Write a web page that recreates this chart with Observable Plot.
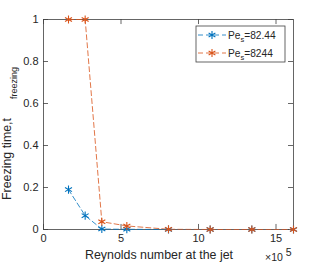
<!DOCTYPE html>
<html>
<head>
<meta charset="utf-8">
<script src="https://cdn.jsdelivr.net/npm/d3@7"></script>
<script src="https://cdn.jsdelivr.net/npm/@observablehq/plot@0.6"></script>
<style>
  html, body { margin: 0; padding: 0; background: #fff; }
</style>
</head>
<body>
<div id="chart"></div>
<script>
// Reynolds number at the jet (×10^5)
const reynolds = [1.613, 2.688, 3.763, 5.376, 8.064, 10.752, 13.44, 16.128];
// Freezing time for Pe_s = 82.44
const tPe82 = [0.19, 0.066, 0.002, 0.001, 0, 0, 0, 0];
// Freezing time for Pe_s = 8244
const tPe8244 = [1, 1, 0.037, 0.017, 0.001, 0, 0, 0];
const seriesNames = ["82.44", "8244"];
const seriesColors = ["#0072BD", "#D95319"];
const xTicks = [0, 5, 10, 15];
const yTicks = [0, 0.2, 0.4, 0.6, 0.8, 1];

const rows = [];
reynolds.forEach((r, i) => rows.push({re: r, t: tPe82[i], s: seriesNames[0]}));
reynolds.forEach((r, i) => rows.push({re: r, t: tPe8244[i], s: seriesNames[1]}));
const xMax = d3.max(reynolds);

const fig = Plot.plot({
  width: 324,
  height: 264,
  marginLeft: 43,
  marginRight: 31,
  marginTop: 19,
  marginBottom: 35,
  style: {fontFamily: "Liberation Sans, Arial, sans-serif", fontSize: "11px", color: "#262626", background: "#fff"},
  x: {domain: [0, xMax]},
  y: {domain: [0, 1]},
  color: {domain: seriesNames, range: seriesColors},
  marks: [
    Plot.frame({stroke: "#404040", strokeWidth: 0.8}),
    Plot.ruleX(xTicks, {x: d => d, y1: 0, y2: 0.024, stroke: "#404040", strokeWidth: 0.8}),
    Plot.ruleX(xTicks, {x: d => d, y1: 1, y2: 0.976, stroke: "#404040", strokeWidth: 0.8}),
    Plot.ruleY(yTicks, {y: d => d, x1: 0, x2: xMax * 0.02, stroke: "#404040", strokeWidth: 0.8}),
    Plot.ruleY(yTicks, {y: d => d, x1: xMax, x2: xMax * 0.98, stroke: "#404040", strokeWidth: 0.8}),
    Plot.axisX(xTicks, {tickSize: 0, tickPadding: 5, label: null, fontSize: 11, fill: "#262626"}),
    Plot.axisY(yTicks, {tickSize: 0, tickPadding: 5, label: null, fontSize: 11, fill: "#262626", tickFormat: d => String(d)}),
    Plot.line(rows, {x: "re", y: "t", z: "s", stroke: "s", strokeDasharray: "5,3", strokeWidth: 0.8}),
    Plot.dot(rows, {x: "re", y: "t", stroke: "s", symbol: "asterisk", r: 3.8, strokeWidth: 1.1})
  ]
});

const svg = d3.select(fig);
// Axis labels
svg.append("text")
  .attr("x", 159).attr("y", 259)
  .attr("text-anchor", "middle")
  .attr("font-size", 12.4).attr("fill", "#262626")
  .text("Reynolds number at the jet");
const mult = svg.append("text")
  .attr("x", 265).attr("y", 261)
  .attr("text-anchor", "start")
  .attr("font-size", 10.5).attr("fill", "#262626");
mult.append("tspan").text("×10");
mult.append("tspan").attr("dx", 3).attr("dy", -5).attr("font-size", 10.5).text("5");

svg.append("text")
  .attr("transform", "translate(11,159) rotate(-90)")
  .attr("text-anchor", "middle")
  .attr("font-size", 12.4).attr("fill", "#262626")
  .text("Freezing time,t");
svg.append("text")
  .attr("transform", "translate(17,83) rotate(-90)")
  .attr("text-anchor", "middle")
  .attr("font-size", 9).attr("fill", "#262626")
  .text("freezing");

// Legend
const lg = svg.append("g");
lg.append("rect")
  .attr("x", 196).attr("y", 26).attr("width", 89).attr("height", 36)
  .attr("fill", "#fff").attr("stroke", "#404040").attr("stroke-width", 0.8);
seriesNames.forEach((name, i) => {
  const y = 35 + i * 18;
  lg.append("line")
    .attr("x1", 198).attr("x2", 226).attr("y1", y).attr("y2", y)
    .attr("stroke", seriesColors[i]).attr("stroke-width", 0.8)
    .attr("stroke-dasharray", "5,3");
  lg.append("path")
    .attr("transform", `translate(212,${y})`)
    .attr("d", d3.symbol(d3.symbolAsterisk, 42)())
    .attr("stroke", seriesColors[i]).attr("stroke-width", 1.1).attr("fill", "none");
  const t = lg.append("text")
    .attr("x", 228).attr("y", y + 3.5)
    .attr("text-anchor", "start")
    .attr("font-size", 10.2).attr("fill", "#262626");
  t.append("tspan").text("Pe");
  t.append("tspan").attr("dy", 3.5).attr("font-size", 7.5).text("s");
  t.append("tspan").attr("dy", -3.5).text("=" + name);
});

document.getElementById("chart").appendChild(fig);
</script>
</body>
</html>
